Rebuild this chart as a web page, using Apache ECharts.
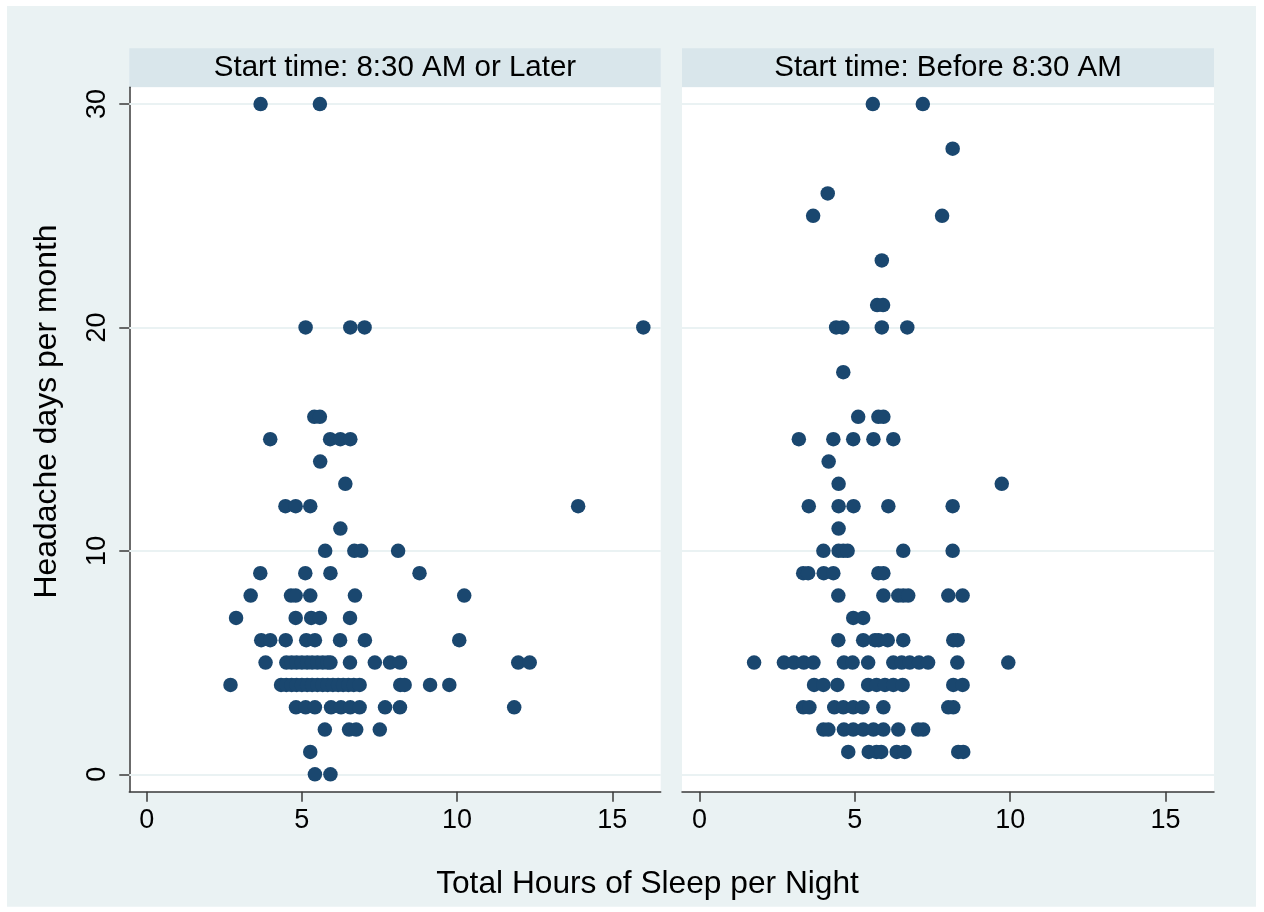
<!DOCTYPE html>
<html>
<head>
<meta charset="utf-8">
<script src="https://cdn.jsdelivr.net/npm/echarts@6/dist/echarts.min.js"></script>
<style>
html,body{margin:0;padding:0;background:#ffffff;}
#chart{width:1264px;height:912px;}
</style>
</head>
<body>
<div id="chart"></div>
<script>
// ---- data ----
const panelTitles = ["Start time: 8:30 AM or Later", "Start time: Before 8:30 AM"];
const xTickValues = [0, 5, 10, 15];
const yTickValues = [0, 10, 20, 30];
const xAxisTitle = "Total Hours of Sleep per Night";
const yAxisTitle = "Headache days per month";

// [hours of sleep, headache days] — start time 8:30 AM or later
const laterPoints = [
  [3.67,30],[5.58,30],
  [5.12,20],[6.56,20],[7.02,20],[16.0,20],
  [5.40,16],[5.58,16],
  [3.98,15],[5.91,15],[6.24,15],[6.56,15],
  [5.59,14],
  [6.40,13],
  [4.47,12],[4.80,12],[5.27,12],[13.9,12],
  [6.24,11],
  [5.75,10],[6.69,10],[6.91,10],[8.10,10],
  [3.66,9],[5.11,9],[5.92,9],[8.79,9],
  [3.35,8],[4.65,8],[4.80,8],[5.27,8],[6.71,8],[10.23,8],
  [2.88,7],[4.80,7],[5.30,7],[5.58,7],[6.55,7],
  [3.69,6],[3.98,6],[4.48,6],[5.14,6],[5.42,6],[6.23,6],[7.03,6],[10.07,6],
  [3.83,5],[4.50,5],[4.67,5],[4.83,5],[5.00,5],[5.17,5],[5.33,5],[5.50,5],[5.67,5],[5.83,5],[5.92,5],
  [6.55,5],[7.35,5],[7.84,5],[8.16,5],[11.97,5],[12.34,5],
  [2.70,4],[4.33,4],[4.50,4],[4.67,4],[4.83,4],[5.00,4],[5.17,4],[5.33,4],[5.50,4],[5.67,4],[5.83,4],
  [6.00,4],[6.17,4],[6.33,4],[6.50,4],[6.67,4],[6.86,4],[8.17,4],[8.31,4],[9.13,4],[9.75,4],
  [4.81,3],[5.12,3],[5.42,3],[5.94,3],[6.26,3],[6.56,3],[6.86,3],[7.68,3],[8.16,3],[11.84,3],
  [5.74,2],[6.52,2],[6.75,2],[7.51,2],
  [5.27,1],
  [5.42,0],[5.92,0]
];

// [hours of sleep, headache days] — start time before 8:30 AM
const beforePoints = [
  [5.58,30],[7.19,30],
  [8.15,28],
  [4.13,26],
  [3.66,25],[7.81,25],
  [5.87,23],
  [5.72,21],[5.91,21],
  [4.40,20],[4.60,20],[5.87,20],[6.69,20],
  [4.63,18],
  [5.11,16],[5.76,16],[5.92,16],
  [3.20,15],[4.31,15],[4.95,15],[5.60,15],[6.24,15],
  [4.16,14],
  [4.48,13],[9.73,13],
  [3.52,12],[4.48,12],[4.96,12],[6.08,12],[8.15,12],
  [4.48,11],
  [3.99,10],[4.48,10],[4.63,10],[4.77,10],[6.56,10],[8.15,10],
  [3.34,9],[3.50,9],[4.00,9],[4.31,9],[5.76,9],[5.92,9],
  [4.47,8],[5.92,8],[6.40,8],[6.56,8],[6.72,8],[8.01,8],[8.47,8],
  [4.95,7],[5.27,7],
  [4.47,6],[5.27,6],[5.65,6],[5.77,6],[6.06,6],[6.56,6],[8.17,6],[8.31,6],
  [1.76,5],[2.72,5],[3.04,5],[3.36,5],[3.67,5],[4.65,5],[4.93,5],[5.43,5],[6.24,5],[6.51,5],[6.77,5],[7.07,5],[7.36,5],[8.30,5],[9.94,5],
  [3.69,4],[3.99,4],[4.44,4],[5.43,4],[5.70,4],[5.97,4],[6.24,4],[6.54,4],[8.17,4],[8.47,4],
  [3.34,3],[3.54,3],[4.34,3],[4.63,3],[4.95,3],[5.25,3],[5.92,3],[8.01,3],[8.17,3],
  [3.99,2],[4.15,2],[4.65,2],[4.95,2],[5.27,2],[5.60,2],[5.92,2],[6.40,2],[7.04,2],[7.20,2],
  [4.79,1],[5.45,1],[5.70,1],[5.85,1],[6.35,1],[6.60,1],[8.33,1],[8.49,1]
];

// ---- styling / layout ----
const FONT = "'Liberation Sans', Arial, Helvetica, sans-serif";
const NAVY = "#1a476f";
const BG = "#eaf2f3";
const STRIP = "#d9e6eb";
const AXIS = "#3a3a3a";
const X_MIN = -0.56, X_MAX = 16.56, Y_MIN = -0.78, Y_MAX = 30.75;
const grids = [
  {left: 129.3, top: 87.3, width: 531.4, height: 704.4},
  {left: 682, top: 87.3, width: 532, height: 704.4}
];

const chart = echarts.init(document.getElementById('chart'), null, {renderer: 'canvas'});

function xAxisDef(i) {
  return {
    type: 'value', gridIndex: i, min: X_MIN, max: X_MAX,
    axisLine: {show: true, onZero: false, lineStyle: {color: AXIS, width: 1.5}},
    axisTick: {show: true, length: 10, customValues: xTickValues, lineStyle: {color: AXIS, width: 1.5}},
    axisLabel: {show: true, customValues: xTickValues, fontSize: 27, color: '#000', fontFamily: FONT, margin: 15},
    splitLine: {show: false}
  };
}
function yAxisDef(i) {
  const show = i === 0;
  return {
    type: 'value', gridIndex: i, min: Y_MIN, max: Y_MAX,
    axisLine: {show: show, onZero: false, lineStyle: {color: AXIS, width: 1.5}},
    axisTick: {show: show, length: 10, customValues: yTickValues, lineStyle: {color: AXIS, width: 1.5}},
    axisLabel: {show: show, customValues: yTickValues, rotate: 90, fontSize: 27, color: '#000', fontFamily: FONT, margin: 18},
    splitLine: {show: false}
  };
}
function seriesDef(i, pts) {
  return {
    type: 'scatter', xAxisIndex: i, yAxisIndex: i, data: pts,
    symbol: 'circle', symbolSize: 14.5,
    itemStyle: {color: NAVY, opacity: 1},
    z: 3,
    markLine: {
      silent: true, symbol: 'none', z: 1, animation: false,
      label: {show: false},
      lineStyle: {color: BG, width: 2, type: 'solid'},
      emphasis: {disabled: true},
      data: yTickValues.map(v => ({yAxis: v}))
    }
  };
}

const graphics = [
  {type: 'rect', z: -10, shape: {x: 7, y: 6, width: 1249, height: 900.7}, style: {fill: BG}}
];
grids.forEach((g, i) => {
  graphics.push({type: 'rect', z: -5, shape: {x: g.left, y: 48.3, width: g.width, height: 39}, style: {fill: STRIP}});
  graphics.push({type: 'text', z: 10, x: g.left + g.width / 2, y: 68,
    style: {text: panelTitles[i], fontSize: 29.5, fontFamily: FONT, fill: '#000', textAlign: 'center', textVerticalAlign: 'middle'}});
});
graphics.push({type: 'text', z: 10, x: 647.5, y: 884,
  style: {text: xAxisTitle, fontSize: 31.7, fontFamily: FONT, fill: '#000', textAlign: 'center', textVerticalAlign: 'middle'}});
graphics.push({type: 'text', z: 10, x: 47, y: 411.5, rotation: Math.PI / 2,
  style: {text: yAxisTitle, fontSize: 31.9, fontFamily: FONT, fill: '#000', textAlign: 'center', textVerticalAlign: 'middle'}});

chart.setOption({
  animation: false,
  backgroundColor: '#ffffff',
  grid: grids.map(g => Object.assign({show: true, backgroundColor: '#ffffff', borderWidth: 0, containLabel: false}, g)),
  xAxis: [xAxisDef(0), xAxisDef(1)],
  yAxis: [yAxisDef(0), yAxisDef(1)],
  series: [seriesDef(0, laterPoints), seriesDef(1, beforePoints)],
  graphic: graphics
});
</script>
</body>
</html>
